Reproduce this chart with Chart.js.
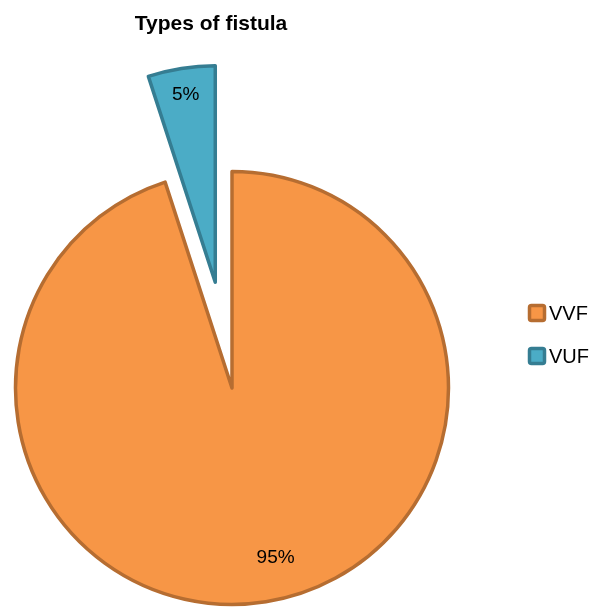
<!DOCTYPE html>
<html>
<head>
<meta charset="utf-8">
<title>Types of fistula</title>
<script src="https://cdn.jsdelivr.net/npm/chart.js@4"></script>
<style>
  html, body { margin:0; padding:0; background:#fff; }
  #wrap { width:589px; height:607px; position:relative; }
</style>
</head>
<body>
<div id="wrap"><canvas id="chartFistula" width="589" height="607"></canvas></div>
<script>
// data
const chartTitle = 'Types of fistula';
const categories = ['VVF', 'VUF'];
const shares = [95, 5];

const fills = ['#F79646', '#4BACC6'];
const borders = ['#B66D31', '#357D92'];
const explode = [0, 107]; // px the slice is pulled out
const labelR = [0.81, 0.875];     // label distance, share of radius
const labelTurn = [-5.4, 0];      // degrees off the bisector

// pull slices out along their bisector without growing the radius (chart.js offset does)
const explodePlugin = {
  id: 'explode',
  afterDatasetUpdate(chart, args) {
    args.meta.data.forEach((arc,i)=>{
      if (!explode[i]) return;
      const mid = (arc.startAngle+arc.endAngle)/2;
      arc.x += Math.cos(mid)*explode[i];
      arc.y += Math.sin(mid)*explode[i];
    });
  }
};

// title, slice labels and legend drawn on top
const extrasPlugin = {
  id: 'extras',
  afterDraw(chart) {
    const ctx = chart.ctx;
    const total = shares.reduce((a,b)=>a+b,0);
    ctx.save();
    // title
    ctx.fillStyle = '#000';
    ctx.font = 'bold 21px "Liberation Sans", Arial, sans-serif';
    ctx.textAlign = 'center'; ctx.textBaseline = 'alphabetic';
    ctx.fillText(chartTitle, 211, 30);
    // labels
    ctx.font = '19px "Liberation Sans", Arial, sans-serif'; ctx.textBaseline = 'middle';
    chart.getDatasetMeta(0).data.forEach((arc,i)=>{
      const mid = (arc.startAngle+arc.endAngle)/2 + labelTurn[i]*Math.PI/180;
      const r = arc.outerRadius*labelR[i];
      ctx.fillText(Math.round(shares[i]/total*100)+'%', arc.x+Math.cos(mid)*r, arc.y+Math.sin(mid)*r);
    });
    // legend
    ctx.textAlign = 'left'; ctx.font = '20px "Liberation Sans", Arial, sans-serif';
    categories.forEach((c,i)=>{
      const y = 313 + i*43;
      ctx.fillStyle = fills[i]; ctx.strokeStyle = borders[i]; ctx.lineWidth = 3.5;
      ctx.beginPath(); ctx.roundRect(529.5, y-7.5, 15, 15, 2); ctx.fill(); ctx.stroke();
      ctx.fillStyle = '#000';
      ctx.fillText(c, 549, y+1);
    });
    ctx.restore();
  }
};

new Chart(document.getElementById('chartFistula'), {
  type: 'pie',
  data: {
    labels: categories,
    datasets: [{
      data: shares,
      backgroundColor: fills,
      borderColor: borders,
      borderWidth: 3.5,
      borderJoinStyle: 'round'
    }]
  },
  options: {
    responsive: false,
    animation: false,
    radius: 216.5,
    layout: { padding: { left: 0, right: 125, top: 169, bottom: 0 } },
    plugins: { legend: { display: false }, title: { display: false }, tooltip: { enabled: false } }
  },
  plugins: [explodePlugin, extrasPlugin]
});
</script>
</body>
</html>
